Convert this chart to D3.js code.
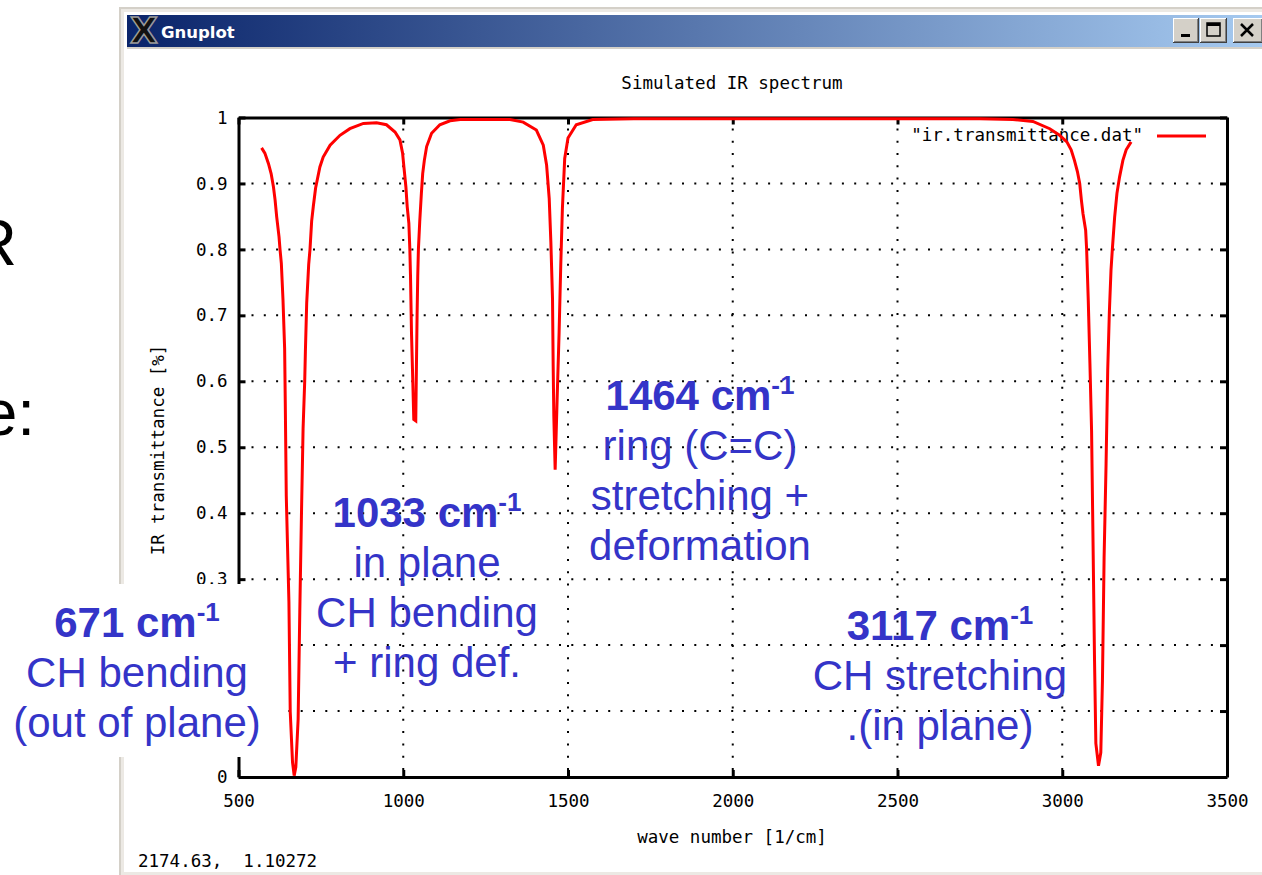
<!DOCTYPE html>
<html>
<head>
<meta charset="utf-8">
<script src="https://cdn.jsdelivr.net/npm/d3@7"></script>
<style>
body { margin: 0; background: #fff; overflow: hidden; }
</style>
</head>
<body>
<script>
// spectrum: wave number [1/cm] and transmittance
var waveNumbers = [
  570, 580, 591, 599, 606, 611, 616, 623, 626, 630,
  635, 640, 642, 645, 653, 657, 664, 669, 674, 681,
  686, 691, 696, 701, 703, 707, 713, 717, 722, 727,
  734, 747, 757, 778, 808, 838, 879, 919, 949, 975,
  990, 998, 1002, 1008, 1012, 1017, 1020, 1022, 1025, 1028,
  1032, 1038, 1040, 1042, 1044, 1046, 1050, 1055, 1059, 1064,
  1071, 1086, 1111, 1142, 1173, 1324, 1364, 1404, 1425, 1435,
  1443, 1448, 1453, 1455, 1457, 1461, 1467, 1473, 1478, 1483,
  1490, 1500, 1525, 1575, 1700, 2000, 2500, 2750, 2850, 2911,
  2962, 2992, 3014, 3027, 3037, 3046, 3053, 3058, 3063, 3071,
  3074, 3079, 3084, 3089, 3093, 3098, 3102, 3110, 3117, 3122,
  3127, 3133, 3138, 3143, 3148, 3152, 3159, 3166, 3174, 3184,
  3194, 3209
];
var transmittance = [
  .954, .946, .930, .915, .895, .875, .849, .819, .800, .779,
  .724, .650, .566, .426, .266, .099, .022, .002, .015, .088,
  .250, .396, .528, .601, .645, .719, .777, .800, .843, .865,
  .893, .925, .940, .958, .973, .983, .991, .992, .989, .978,
  .966, .946, .925, .895, .865, .840, .800, .760, .674, .618,
  .542, .540, .623, .700, .760, .800, .842, .885, .915, .935,
  .956, .976, .989, .995, .997, .997, .993, .981, .958, .928,
  .877, .811, .725, .623, .547, .466, .573, .674, .776, .862,
  .938, .969, .989, .997, .998, .998, .998, .998, .997, .994,
  .983, .973, .963, .951, .935, .918, .900, .875, .854, .829,
  .800, .722, .627, .525, .373, .176, .051, .017, .037, .146,
  .332, .475, .617, .705, .769, .800, .849, .885, .910, .935,
  .951, .963
];

var xTicks = [500, 1000, 1500, 2000, 2500, 3000, 3500];
var xTickLabels = ["500", "1000", "1500", "2000", "2500", "3000", "3500"];
var yTicks = [0, 0.1, 0.2, 0.3, 0.4, 0.5, 0.6, 0.7, 0.8, 0.9, 1];
var yTickLabels = ["0", "0.1", "0.2", "0.3", "0.4", "0.5", "0.6", "0.7", "0.8", "0.9", "1"];

var w = 1262, h = 875;
var mono = "'DejaVu Sans Mono', 'Liberation Mono', monospace";
var sans = "'Liberation Sans', Arial, sans-serif";
var blue = "#3434c8";

var svg = d3.select("body").append("svg")
    .attr("width", w)
    .attr("height", h);

// slide text peeking out on the left
svg.append("text").attr("x", 17).attr("y", 265).attr("text-anchor", "end")
    .style("font-family", sans).style("font-size", "64px").text("R");
svg.append("text").attr("x", 35).attr("y", 435).attr("text-anchor", "end")
    .style("font-family", sans).style("font-size", "64px").text("e:");

// ---- window frame ----
svg.append("rect").attr("x", 119).attr("y", 7).attr("width", w - 119).attr("height", h - 7)
    .style("fill", "#d4d0c8");
svg.append("rect").attr("x", 121).attr("y", 9).attr("width", w - 121).attr("height", h - 9)
    .style("fill", "#ece9e4");
svg.append("rect").attr("x", 124).attr("y", 12).attr("width", w - 124).attr("height", 860)
    .style("fill", "#ffffff");

var grad = svg.append("defs").append("linearGradient").attr("id", "titlegrad");
grad.append("stop").attr("offset", "0%").attr("stop-color", "#0a246a");
grad.append("stop").attr("offset", "100%").attr("stop-color", "#a6caf0");

svg.append("rect").attr("x", 127).attr("y", 15).attr("width", w - 127).attr("height", 32)
    .style("fill", "url(#titlegrad)");
svg.append("rect").attr("x", 127).attr("y", 47).attr("width", w - 127).attr("height", 2)
    .style("fill", "#d4d0c8");

// X icon + title
svg.append("text").attr("x", 144).attr("y", 43).attr("text-anchor", "middle")
    .style("font-family", "'DejaVu Sans', sans-serif").style("font-weight", "bold")
    .style("font-size", "36px").style("fill", "#111").style("stroke", "#9a9a9a")
    .style("stroke-width", 1.5).text("X");
svg.append("text").attr("x", 161).attr("y", 38)
    .style("font-family", "'DejaVu Sans', sans-serif").style("font-weight", "bold")
    .style("font-size", "16.5px").style("fill", "#fff").text("Gnuplot");

// title bar buttons
var buttons = [{x: 1173, w: 26}, {x: 1200, w: 27}, {x: 1233, w: 30}];
buttons.forEach(function(b){
    svg.append("rect").attr("x", b.x).attr("y", 18).attr("width", b.w).attr("height", 25)
        .style("fill", "#404040");
    svg.append("rect").attr("x", b.x).attr("y", 18).attr("width", b.w - 1).attr("height", 24)
        .style("fill", "#ffffff");
    svg.append("rect").attr("x", b.x + 1).attr("y", 19).attr("width", b.w - 2).attr("height", 23)
        .style("fill", "#808080");
    svg.append("rect").attr("x", b.x + 1).attr("y", 19).attr("width", b.w - 3).attr("height", 22)
        .style("fill", "#d4d0c8");
});
svg.append("rect").attr("x", 1181).attr("y", 34).attr("width", 9).attr("height", 3).style("fill", "#000");
svg.append("rect").attr("x", 1207).attr("y", 23).attr("width", 13).attr("height", 13)
    .style("fill", "none").style("stroke", "#000").style("stroke-width", 1.5);
svg.append("rect").attr("x", 1207).attr("y", 23).attr("width", 13).attr("height", 3).style("fill", "#000");
svg.append("path").attr("d", "M1241,24L1253,36M1253,24L1241,36")
    .style("stroke", "#000").style("stroke-width", 2.5);

// ---- plot ----
var x = d3.scaleLinear().domain([500, 3500]).range([238.5, 1227]);
var y = d3.scaleLinear().domain([0, 1]).range([777, 117.5]);

svg.append("text").attr("x", 732).attr("y", 89).attr("text-anchor", "middle")
    .style("font-family", mono).style("font-size", "17.5px").text("Simulated IR spectrum");

// dotted grid
var grid = svg.append("g").style("stroke", "#000").style("stroke-width", 2)
    .style("stroke-dasharray", "2,10.3");
grid.selectAll(".vgrid").data(xTicks.slice(1, -1)).enter().append("line")
    .attr("x1", function(d){ return x(d); }).attr("x2", function(d){ return x(d); })
    .attr("y1", y(0) - 7).attr("y2", y(1) + 7);
grid.selectAll(".hgrid").data(yTicks.slice(1, -1)).enter().append("line")
    .attr("y1", function(d){ return y(d); }).attr("y2", function(d){ return y(d); })
    .attr("x1", x(500) + 13).attr("x2", x(3500) - 7);

// axes (ticks pointing inward like gnuplot)
var fmtX = function(d){ return xTickLabels[xTicks.indexOf(d)]; };
var fmtY = function(d){ return yTickLabels[yTicks.indexOf(d)]; };
var axB = svg.append("g").attr("transform", "translate(0," + y(0) + ")")
    .call(d3.axisBottom(x).tickValues(xTicks).tickFormat(fmtX).tickSize(-7).tickPadding(18).tickSizeOuter(0));
var axT = svg.append("g").attr("transform", "translate(0," + y(1) + ")")
    .call(d3.axisTop(x).tickValues(xTicks).tickSize(-7).tickFormat("").tickSizeOuter(0));
var axL = svg.append("g").attr("transform", "translate(" + x(500) + ",0)")
    .call(d3.axisLeft(y).tickValues(yTicks).tickFormat(fmtY).tickSize(-7).tickPadding(11).tickSizeOuter(0));
var axR = svg.append("g").attr("transform", "translate(" + x(3500) + ",0)")
    .call(d3.axisRight(y).tickValues(yTicks).tickFormat("").tickSize(-7).tickSizeOuter(0));

[axB, axT, axL, axR].forEach(function(g){
    g.selectAll("path").style("stroke", "#000").style("stroke-width", 3);
    g.selectAll("line").style("stroke", "#000").style("stroke-width", 3);
    g.selectAll("text").style("font-family", mono).style("font-size", "17.5px").style("fill", "#000");
});

// axis titles
svg.append("text").attr("x", 732).attr("y", 843).attr("text-anchor", "middle")
    .style("font-family", mono).style("font-size", "17.5px").text("wave number [1/cm]");
svg.append("text").attr("transform", "translate(164,450) rotate(-90)").attr("text-anchor", "middle")
    .style("font-family", mono).style("font-size", "17.5px").text("IR transmittance [%]");

// legend
svg.append("text").attr("x", 1143).attr("y", 141).attr("text-anchor", "end")
    .style("font-family", mono).style("font-size", "17.5px").text("\"ir.transmittance.dat\"");
svg.append("line").attr("x1", 1157).attr("x2", 1206).attr("y1", 136).attr("y2", 136)
    .style("stroke", "#ff0000").style("stroke-width", 3);

// spectrum
var line = d3.line()
    .x(function(d, i){ return x(waveNumbers[i]); })
    .y(function(d, i){ return y(transmittance[i]); });
svg.append("path").datum(waveNumbers)
    .attr("d", line)
    .style("fill", "none")
    .style("stroke", "#ff0000")
    .style("stroke-width", 3)
    .style("stroke-linejoin", "miter");

// status line
svg.append("text").attr("x", 138).attr("y", 867)
    .style("font-family", mono).style("font-size", "17.5px").style("white-space", "pre")
    .text("2174.63,  1.10272");

// ---- slide annotations ----
svg.append("rect").attr("x", 0).attr("y", 584).attr("width", 287).attr("height", 173)
    .style("fill", "#fff");

var notes = [
    {x: 137, y: 637, lines: ["671 cm", "CH bending", "(out of plane)"]},
    {x: 427, y: 527, lines: ["1033 cm", "in plane", "CH bending", "+ ring def."]},
    {x: 700, y: 410, lines: ["1464 cm", "ring (C=C)", "stretching +", "deformation"]},
    {x: 940, y: 640, lines: ["3117 cm", "CH stretching", ".(in plane)"]}
];
notes.forEach(function(n){
    n.lines.forEach(function(s, i){
        var t = svg.append("text").attr("x", n.x).attr("y", n.y + i * 50)
            .attr("text-anchor", "middle")
            .style("font-family", sans).style("font-size", "42px").style("fill", blue);
        if (i === 0) {
            t.style("font-weight", "bold");
            t.append("tspan").text(s);
            t.append("tspan").attr("dy", -16).style("font-size", "26px").text("-1");
        } else {
            t.text(s);
        }
    });
});
</script>
</body>
</html>
